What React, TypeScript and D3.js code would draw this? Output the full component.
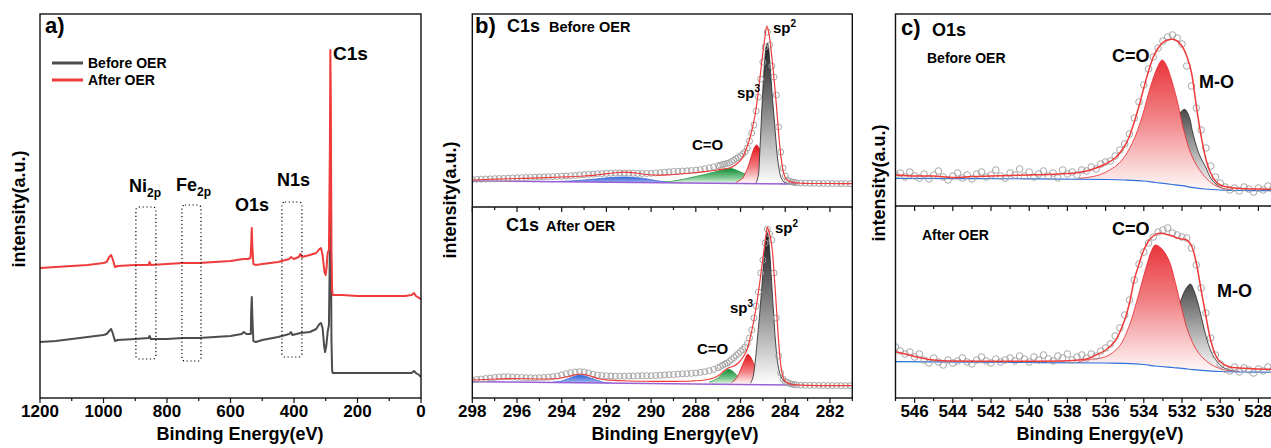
import React from 'react';
import * as d3 from 'd3';

type P = [number, number];

// ---------------- Panel a: survey (eV, intensity a.u.) ----------------
const surveyMajorTicks = [1200, 1000, 800, 600, 400, 200, 0];
const surveyMinorTicks = [1100, 900, 700, 500, 300, 100];

const surveyAfter: P[] = [
  [1200, 130], [1150, 131], [1100, 132], [1050, 133], [1000, 135], [990, 136], [982, 141], [976, 143], [971, 139],
  [964, 131], [955, 132], [900, 133], [858, 133], [855, 136], [851, 133], [800, 134], [750, 135], [700, 135],
  [650, 136], [600, 137], [560, 139], [545, 139], [537, 140], [535, 152], [533, 170], [531, 150], [528, 134],
  [520, 133], [500, 134], [450, 136], [415, 139], [410, 141], [400, 139], [385, 141], [380, 144], [375, 141],
  [350, 143], [330, 145], [320, 149], [315, 150], [310, 143], [304, 126], [300, 123], [297, 132], [294, 145],
  [290, 148], [287, 248], [285.5, 348], [284, 298], [282, 148], [280, 108], [278, 103], [250, 103], [200, 102],
  [100, 102], [50, 102], [30, 103], [22, 105], [16, 102], [6, 100], [0, 99],
];
const surveyBefore: P[] = [
  [1200, 56], [1150, 57], [1100, 59], [1050, 61], [1000, 63], [990, 64], [982, 67], [976, 69], [971, 65],
  [964, 57], [955, 58], [900, 59], [858, 60], [855, 62], [851, 59], [800, 59], [750, 60], [700, 60], [650, 61],
  [600, 62], [565, 64], [558, 66], [550, 64], [540, 64], [536, 64], [535, 85], [533, 101], [531, 80], [528, 57],
  [520, 56], [500, 58], [450, 61], [415, 64], [410, 66], [405, 63], [380, 65], [350, 66], [330, 69], [320, 74],
  [315, 75], [310, 70], [305, 52], [302, 46], [298, 53], [294, 66], [290, 73], [287, 148], [285.5, 220],
  [284, 180], [282, 58], [280, 28], [278, 25], [200, 25], [100, 25], [30, 25], [22, 27], [16, 25], [6, 23], [0, 21],
];
// dotted region boxes (eV from, eV to)
const surveyBoxes: P[] = [[898, 835], [753, 693], [438, 375]];

// ---------------- Panel b: C1s ----------------
const c1sMajorTicks = [298, 296, 294, 292, 290, 288, 286, 284, 282];
const c1sMinorTicks = [297, 295, 293, 291, 289, 287, 285, 283, 281];

const c1sBeforeData: P[] = [
  [298, 27.5], [297.8, 27.7], [297.6, 27.8], [297.4, 28], [297.2, 28.1], [297, 28.3], [296.8, 28.5], [296.6, 28.6],
  [296.4, 28.8], [296.2, 29], [296, 29.2], [295.8, 29.3], [295.6, 29.5], [295.4, 29.6], [295.2, 29.8], [295, 30],
  [294.8, 30.1], [294.6, 30.3], [294.4, 30.4], [294.2, 30.6], [294, 30.8], [293.8, 31], [293.6, 31.3], [293.4, 31.6],
  [293.2, 32], [293, 32.3], [292.8, 32.6], [292.6, 32.9], [292.4, 33.2], [292.2, 33.4], [292, 33.6], [291.8, 33.8],
  [291.6, 34], [291.4, 34.1], [291.2, 34.1], [291, 34], [290.8, 33.8], [290.6, 33.6], [290.4, 33.5], [290.2, 33.5],
  [290, 33.7], [289.8, 34], [289.6, 34.4], [289.4, 34.8], [289.2, 35.2], [289, 35.5], [288.8, 35.8], [288.6, 36],
  [288.4, 36.2], [288.2, 36.5], [288, 36.8], [287.8, 37.4], [287.6, 38.2], [287.4, 39.2], [287.2, 40.2],
  [287, 41.2], [286.9, 41.8], [286.8, 42.4], [286.7, 43], [286.6, 43.6], [286.5, 44.3], [286.4, 45.5], [286.3, 46.8],
  [286.2, 48.5], [286.1, 49.5], [286, 51], [285.9, 53], [285.8, 55], [285.7, 59], [285.6, 66], [285.5, 74],
  [285.4, 82], [285.3, 96], [285.2, 110], [285.1, 128], [285, 145], [284.9, 160], [284.8, 175], [284.7, 162],
  [284.6, 141], [284.5, 130], [284.4, 112], [284.3, 80], [284.2, 55], [284.1, 39], [284, 31], [283.9, 27],
  [283.8, 25.5], [283.7, 25], [283.6, 24.5], [283.5, 24.2], [283.3, 24], [283.1, 23.9], [282.9, 23.8],
  [282.7, 23.7], [282.5, 23.6], [282.3, 23.6], [282.1, 23.5], [281.9, 23.5], [281.7, 23.4], [281.5, 23.4],
  [281.3, 23.4], [281.1, 23.3],
];
const c1sBeforeEnvelope: P[] = [
  [298, 27], [297, 27.8], [296, 28.5], [295, 29.2], [294, 30], [293, 31], [292.3, 32.5], [291.7, 34], [291.2, 34.8],
  [290.7, 34], [290.2, 32.5], [289.7, 31.8], [289.2, 32.2], [288.7, 33], [288.2, 34], [287.7, 35.2], [287.2, 36.5],
  [286.8, 37.8], [286.5, 39], [286.3, 41], [286.1, 44.5], [285.95, 48], [285.8, 55], [285.65, 64], [285.5, 76],
  [285.35, 92], [285.2, 116], [285.05, 145], [284.92, 168], [284.82, 181], [284.72, 172], [284.6, 150],
  [284.5, 128], [284.4, 103], [284.3, 75], [284.2, 52], [284.1, 37], [284, 29.5], [283.85, 26], [283.6, 24.3],
  [283.2, 23.7], [282, 23.5], [281, 23.4],
];
const c1sBeforeBg: P[] = [[298, 26], [283.5, 23]];
const c1sBeforeBlue: P[] = [
  [294.5, 25.2], [293.5, 26.2], [292.5, 28], [291.8, 29.5], [291.1, 30], [290.4, 28.8], [289.8, 26.5], [289.2, 24.8], [288.6, 24.2],
];
const c1sBeforeCO: P[] = [
  [289.6, 24.3], [289, 26], [288.5, 28], [288, 30.5], [287.5, 33], [287, 36], [286.7, 38], [286.47, 38.7],
  [286.2, 37], [286, 35], [285.7, 32], [285.4, 29.5], [285, 27], [284.6, 25], [284.2, 23.3], [283.9, 23],
];
const c1sBeforeSp3: P[] = [
  [286.2, 24.8], [286, 27], [285.9, 29], [285.8, 33], [285.65, 41], [285.5, 52], [285.4, 58.5], [285.28, 62],
  [285.15, 58], [285.05, 51], [284.95, 41], [284.86, 33], [284.75, 28], [284.6, 25], [284.45, 23.8],
];
const c1sBeforeSp2: P[] = [
  [285.3, 24], [285.2, 32], [285.15, 50], [285.1, 72], [285.05, 97], [285, 118], [284.95, 137], [284.9, 152],
  [284.85, 161], [284.8, 164], [284.75, 160], [284.7, 148], [284.65, 133], [284.6, 117], [284.55, 103],
  [284.5, 90], [284.45, 76], [284.4, 62], [284.35, 50], [284.3, 41], [284.25, 35], [284.2, 30], [284.1, 26],
  [284, 24], [283.8, 23.3],
];

const c1sAfterData: P[] = [
  [298, 18], [297.8, 18.5], [297.6, 19], [297.4, 19.5], [297.2, 20], [297, 20.5], [296.8, 21], [296.6, 21.3],
  [296.4, 21.3], [296.2, 21], [296, 20.7], [295.8, 20.5], [295.6, 20.3], [295.4, 20.2], [295.2, 20.2], [295, 20.3],
  [294.8, 20.5], [294.6, 20.8], [294.4, 21.3], [294.2, 22], [294, 23], [293.8, 24.2], [293.6, 25.3], [293.4, 26],
  [293.2, 26.3], [293, 26], [292.8, 25], [292.6, 23.8], [292.4, 23], [292.2, 22.5], [292, 22.2], [291.8, 22],
  [291.6, 21.8], [291.4, 21.8], [291.2, 21.8], [291, 22], [290.8, 22], [290.6, 22.2], [290.4, 22.3], [290.2, 22.3],
  [290, 22.3], [289.8, 22.5], [289.6, 22.7], [289.4, 23], [289.2, 23.3], [289, 23.5], [288.8, 23.8], [288.6, 24.1],
  [288.4, 24.4], [288.2, 24.6], [288, 25], [287.8, 25.6], [287.6, 26.3], [287.4, 27.3], [287.2, 28.6],
  [287, 30.3], [286.9, 31.5], [286.8, 32.8], [286.7, 34], [286.6, 35], [286.5, 36.5], [286.4, 38.5], [286.3, 40.5],
  [286.2, 42.5], [286.1, 44.5], [286, 46.5], [285.9, 48.5], [285.8, 51], [285.7, 54.5], [285.6, 60], [285.5, 68],
  [285.4, 80], [285.3, 92], [285.2, 106], [285.1, 125], [285, 138], [284.9, 155], [284.8, 169], [284.7, 164],
  [284.6, 158], [284.5, 125], [284.4, 80], [284.3, 42], [284.2, 25], [284.1, 19], [284, 16.5], [283.9, 15.5],
  [283.8, 14.5], [283.7, 13.8], [283.6, 13.3], [283.5, 13], [283.3, 12.8], [283.1, 12.7], [282.9, 12.6],
  [282.7, 12.6], [282.5, 12.5], [282.3, 12.5], [282.1, 12.4], [281.9, 12.4], [281.7, 12.4], [281.5, 12.3],
  [281.3, 12.3], [281.1, 12.3],
];
const c1sAfterEnvelope: P[] = [
  [298, 18], [297, 19], [296, 19.5], [295, 19], [294.2, 19.5], [293.7, 21.5], [293.2, 24], [292.8, 22.5],
  [292.3, 19], [291.8, 17.8], [291, 17], [290, 16.7], [289, 16.6], [288.2, 17], [287.6, 18], [287.2, 20],
  [286.95, 23], [286.75, 27], [286.55, 30], [286.3, 32], [286.1, 35], [285.95, 39], [285.8, 44], [285.68, 50],
  [285.55, 62], [285.4, 78], [285.25, 98], [285.1, 122], [284.95, 148], [284.85, 165], [284.8, 170.7],
  [284.72, 166], [284.6, 152], [284.5, 125], [284.4, 92], [284.3, 58], [284.2, 33], [284.1, 21], [284, 16.5],
  [283.85, 14.5], [283.6, 13.3], [283, 12.6], [282, 12.4], [281, 12.3],
];
const c1sAfterBg: P[] = [[298, 16.3], [283.5, 13]];
const c1sAfterBlue: P[] = [
  [294.4, 15.8], [294, 17], [293.7, 19.5], [293.4, 22], [293.2, 23], [293, 22.3], [292.7, 20], [292.4, 17.5], [292.1, 15.6], [291.8, 15.2],
];
const c1sAfterCO: P[] = [
  [287.4, 16], [287.2, 17.5], [287, 20], [286.8, 24.5], [286.65, 27.5], [286.55, 28.7], [286.4, 27.5],
  [286.2, 23.5], [286, 19], [285.8, 16.2], [285.6, 15],
];
const c1sAfterSp3: P[] = [
  [286.4, 15.5], [286.25, 18], [286.1, 23], [285.95, 31], [285.8, 39], [285.68, 43.7], [285.55, 41],
  [285.35, 31], [285.2, 25], [285.05, 21], [284.85, 17], [284.68, 15], [284.5, 14],
];
const c1sAfterSp2: P[] = [
  [285.55, 14.8], [285.45, 20], [285.35, 35], [285.25, 58], [285.13, 88], [285.05, 110], [284.98, 131],
  [284.9, 152], [284.85, 162], [284.8, 166], [284.75, 160], [284.7, 148], [284.65, 131], [284.53, 88],
  [284.43, 55], [284.31, 31], [284.2, 22], [284.1, 18], [283.9, 15], [283.7, 14],
];

// ---------------- Panel c: O1s ----------------
const o1sMajorTicks = [546, 544, 542, 540, 538, 536, 534, 532, 530, 528];
const o1sMinorTicks = [547, 545, 543, 541, 539, 537, 535, 533, 531, 529, 527];

const o1sBeforeData: P[] = [
  [547, 31], [546.75, 33], [546.5, 29], [546.25, 34], [546, 30], [545.75, 28], [545.5, 32], [545.25, 27],
  [545, 31], [544.75, 35], [544.5, 29], [544.25, 26], [544, 30], [543.75, 33], [543.5, 28], [543.25, 31],
  [543, 27], [542.75, 32], [542.5, 34], [542.25, 29], [542, 31], [541.75, 36], [541.5, 30], [541.25, 28],
  [541, 33], [540.75, 31], [540.5, 37], [540.25, 30], [540, 34], [539.75, 29], [539.5, 32], [539.25, 35],
  [539, 30], [538.75, 33], [538.5, 28], [538.25, 36], [538, 32], [537.75, 34], [537.5, 31], [537.25, 36],
  [537, 35], [536.75, 39], [536.5, 37], [536.25, 42], [536, 44], [535.75, 45], [535.5, 50], [535.25, 56],
  [535, 62], [534.75, 72], [534.5, 88], [534.25, 104], [534, 121], [533.75, 137], [533.5, 149], [533.25, 158],
  [533, 165], [532.75, 169], [532.5, 171], [532.25, 168], [532, 162], [531.75, 140], [531.5, 120], [531.25, 98],
  [531, 76], [530.75, 58], [530.5, 40], [530.25, 29], [530, 23], [529.75, 19], [529.5, 16], [529.25, 18],
  [529, 15], [528.75, 19], [528.5, 17], [528.25, 14], [528, 18], [527.75, 16], [527.5, 20], [527.25, 17],
];
const o1sBeforeEnvelope: P[] = [
  [547, 31], [546, 30], [545, 30], [544, 28.5], [543, 29.5], [542, 30], [541, 30.5], [540, 31], [539, 31.5],
  [538, 32.5], [537.4, 33.5], [537, 35], [536.5, 38], [536, 42], [535.5, 48], [535, 60], [534.75, 70],
  [534.5, 84], [534.25, 100], [534, 118], [533.75, 135], [533.5, 149], [533.25, 158], [533, 163.5],
  [532.75, 166], [532.5, 166.7], [532.25, 165], [532, 160], [531.75, 150], [531.5, 133], [531.25, 100],
  [531, 70], [530.75, 47], [530.5, 33], [530.25, 25], [530, 21], [529.5, 18.5], [529, 17.5], [528, 17], [527, 16.7],
];
const o1sBeforeBg: P[] = [
  [547, 27.7], [540, 27.2], [536, 26.5], [535, 26], [534, 25], [533.4, 23.5], [532.5, 21.5], [532, 20.3],
  [531.4, 18.3], [530.8, 17], [530, 16], [529, 15.5], [527, 15.3],
];
const o1sBeforeCO: P[] = [
  [537.4, 27.7], [536.35, 31], [535.3, 42.7], [534.61, 62.7], [534.09, 89.3], [533.65, 119.3], [533.3, 138],
  [533.04, 146], [532.8, 140], [532.6, 129.3], [532.26, 106], [531.91, 76], [531.47, 49.3], [530.95, 32.7],
  [530.43, 22.7], [529.9, 17.7], [529.3, 16],
];
const o1sBeforeMO: P[] = [
  [533.5, 25], [533, 45], [532.5, 75], [532.1, 93], [531.86, 96.7], [531.6, 88], [531.47, 76], [531.12, 52.7],
  [530.77, 39.3], [530.43, 26], [529.9, 17.7], [529.5, 16],
];

const o1sAfterData: P[] = [
  [547, 51], [546.75, 47], [546.5, 44], [546.25, 46], [546, 41], [545.75, 44], [545.5, 38], [545.25, 35],
  [545, 40], [544.75, 36], [544.5, 33], [544.25, 38], [544, 35], [543.75, 37], [543.5, 40], [543.25, 36],
  [543, 34], [542.75, 38], [542.5, 41], [542.25, 37], [542, 35], [541.75, 39], [541.5, 36], [541.25, 38],
  [541, 40], [540.75, 37], [540.5, 42], [540.25, 39], [540, 36], [539.75, 41], [539.5, 38], [539.25, 43],
  [539, 39], [538.75, 37], [538.5, 42], [538.25, 40], [538, 44], [537.75, 38], [537.5, 41], [537.25, 43],
  [537, 40], [536.75, 44], [536.5, 42], [536.25, 47], [536, 50], [535.75, 54], [535.5, 62], [535.25, 70],
  [535, 83], [534.75, 98], [534.5, 118], [534.25, 134], [534, 146], [533.75, 155], [533.5, 161], [533.25, 166],
  [533, 168], [532.75, 170], [532.5, 165], [532.25, 163], [532, 161], [531.75, 160], [531.5, 150], [531.25, 133],
  [531, 110], [530.75, 85], [530.5, 60], [530.25, 43], [530, 34], [529.75, 29], [529.5, 27], [529.25, 31],
  [529, 26], [528.75, 30], [528.5, 28], [528.25, 25], [528, 29], [527.75, 27], [527.5, 31], [527.25, 28],
];
const o1sAfterEnvelope: P[] = [
  [547, 46.3], [546.5, 44], [546, 41.5], [545.5, 39.5], [545, 38], [544.5, 37.2], [544, 37], [542, 36.8],
  [540, 36.8], [538, 37.2], [537.4, 38], [537, 39], [536.5, 43], [536, 48], [535.5, 57], [535, 78], [534.75, 95],
  [534.5, 118], [534.25, 134], [534, 148], [533.75, 157], [533.5, 162], [533.25, 164.5], [533, 164.5],
  [532.75, 163.3], [532.5, 162], [532.25, 160], [532, 159], [531.75, 158], [531.5, 152], [531.25, 135],
  [531, 108], [530.75, 82], [530.5, 58], [530.25, 43], [530, 36], [529.5, 31], [529, 30], [528, 29], [527, 28.7],
];
const o1sAfterBg: P[] = [
  [547, 36.3], [540, 35.5], [536, 35], [535, 34.7], [534, 33.5], [533.4, 32], [532.5, 30.5], [532, 29.7],
  [531.4, 28.3], [530.8, 27.3], [530, 26.5], [529, 26], [527, 25.7],
];
const o1sAfterCO: P[] = [
  [537.5, 35.5], [537.04, 38], [536, 41.3], [535.3, 51.3], [534.78, 71.3], [534.35, 98], [533.87, 131.3],
  [533.6, 147], [533.4, 153], [533.1, 150], [532.69, 138], [532.34, 114.7], [532, 88], [531.65, 64.7],
  [531.12, 44.7], [530.43, 33], [529.73, 28], [529, 26.5],
];
const o1sAfterMO: P[] = [
  [533.2, 33], [532.8, 50], [532.4, 75], [532.05, 98], [531.8, 109], [531.56, 114], [531.35, 106], [531.21, 98],
  [530.95, 78], [530.69, 58], [530.34, 41.3], [529.9, 31.3], [529.4, 27.5], [529, 26.5],
];

// ---------------- helpers ----------------
const FONT = '"Liberation Sans", Arial, Helvetica, sans-serif';

function valueAt(arr: P[], e: number): number {
  for (let i = 0; i < arr.length - 1; i++) {
    const [x0, y0] = arr[i];
    const [x1, y1] = arr[i + 1];
    if ((e <= x0 && e >= x1) || (e >= x0 && e <= x1)) {
      const t = x1 === x0 ? 0 : (e - x0) / (x1 - x0);
      return y0 + t * (y1 - y0);
    }
  }
  const first = arr[0];
  const last = arr[arr.length - 1];
  return Math.abs(e - first[0]) < Math.abs(e - last[0]) ? first[1] : last[1];
}

type Scale = d3.ScaleLinear<number, number>;

function Component({ pts, bg, x, y, fill, stroke }: { pts: P[]; bg: P[]; x: Scale; y: Scale; fill: string; stroke: string }) {
  const top = (d: P) => y(Math.max(d[1], valueAt(bg, d[0])));
  const area = d3
    .area<P>()
    .x((d) => x(d[0]))
    .y0((d) => y(valueAt(bg, d[0])))
    .y1(top)
    .curve(d3.curveCatmullRom.alpha(0.5));
  const line = d3
    .line<P>()
    .x((d) => x(d[0]))
    .y(top)
    .curve(d3.curveCatmullRom.alpha(0.5));
  return (
    <g>
      <path d={area(pts) || ''} fill={fill} />
      <path d={line(pts) || ''} fill="none" stroke={stroke} strokeWidth={0.8} />
    </g>
  );
}

function Circles({ data, x, y, r }: { data: P[]; x: Scale; y: Scale; r: number }) {
  return (
    <g>
      {data.map((d, i) => (
        <circle key={i} cx={x(d[0])} cy={y(d[1])} r={r} fill="none" stroke="#9d9d9d" strokeWidth={0.9} />
      ))}
    </g>
  );
}

function Curve({ pts, x, y, stroke, width, curved = true }: { pts: P[]; x: Scale; y: Scale; stroke: string; width: number; curved?: boolean }) {
  const line = d3
    .line<P>()
    .x((d) => x(d[0]))
    .y((d) => y(d[1]))
    .curve(curved ? d3.curveCatmullRom.alpha(0.5) : d3.curveLinear);
  return <path d={line(pts) || ''} fill="none" stroke={stroke} strokeWidth={width} strokeLinejoin="round" />;
}

function Ticks({ x, y0, major, minor, labels, labelY }: { x: Scale; y0: number; major: number[]; minor: number[]; labels: boolean; labelY: number }) {
  return (
    <g>
      {major.map((t) => (
        <line key={'M' + t} x1={x(t)} x2={x(t)} y1={y0} y2={y0 + 5} stroke="#111" strokeWidth={1.2} />
      ))}
      {minor.map((t) => (
        <line key={'m' + t} x1={x(t)} x2={x(t)} y1={y0} y2={y0 + 3} stroke="#111" strokeWidth={1.2} />
      ))}
      {labels &&
        major.map((t) => (
          <text key={'L' + t} x={x(t)} y={labelY} textAnchor="middle" fontSize={17} fontWeight="bold" fill="#000">
            {t}
          </text>
        ))}
    </g>
  );
}

function YTitle({ cx, cy }: { cx: number; cy: number }) {
  return (
    <text transform={`translate(${cx},${cy}) rotate(-90)`} textAnchor="middle" fontSize={18} fontWeight="bold" fill="#000">
      intensity(a.u.)
    </text>
  );
}

function Grad({ id, stops }: { id: string; stops: [number, string][] }) {
  return (
    <linearGradient id={id} x1="0" y1="0" x2="0" y2="1">
      {stops.map(([o, c], i) => (
        <stop key={i} offset={o} stopColor={c} />
      ))}
    </linearGradient>
  );
}

export default function App() {
  // panel a
  const xA = d3.scaleLinear().domain([1200, 0]).range([40, 421]);
  const yA = d3.scaleLinear().domain([0, 384]).range([398, 14]);
  // panel b
  const xB = d3.scaleLinear().domain([298, 281]).range([472.3, 852.3]);
  const yBU = d3.scaleLinear().domain([0, 193]).range([207, 14]);
  const yBL = d3.scaleLinear().domain([0, 191]).range([398, 207]);
  // panel c
  const xC = d3.scaleLinear().domain([547, 527]).range([895.5, 1277.5]);
  const yCU = d3.scaleLinear().domain([0, 192]).range([206, 14]);
  const yCL = d3.scaleLinear().domain([0, 192]).range([398, 206]);

  const survey = d3
    .line<P>()
    .x((d) => xA(d[0]))
    .y((d) => yA(d[1]));

  const bx0 = 472.3, bx1 = 852.3;
  const cx0 = 895.5, cx1 = 1277.5;

  const boxTop = [207, 205, 202];
  const boxBot = [359, 361, 357];

  const purple = '#9a5fd6';
  const blueLine = '#2c6fd8';
  const envRed = '#f03a3a';

  return (
    <svg
      width={1271}
      height={448}
      style={{ position: 'absolute', left: 0, top: 0, background: '#fff' }}
      fontFamily={FONT}
    >
      <defs>
        <clipPath id="clipA"><rect x={40} y={14} width={381} height={384} /></clipPath>
        <clipPath id="clipBU"><rect x={bx0} y={14} width={bx1 - bx0} height={193} /></clipPath>
        <clipPath id="clipBL"><rect x={bx0} y={207} width={bx1 - bx0} height={191} /></clipPath>
        <clipPath id="clipCU"><rect x={cx0} y={14} width={cx1 - cx0} height={192} /></clipPath>
        <clipPath id="clipCL"><rect x={cx0} y={206} width={cx1 - cx0} height={192} /></clipPath>
        <Grad id="gSp2" stops={[[0, '#1e1e1e'], [0.45, '#808080'], [1, '#ffffff']]} />
        <Grad id="gSp3" stops={[[0, '#e5161c'], [0.55, '#f27a7d'], [1, '#ffffff']]} />
        <Grad id="gGreen" stops={[[0, '#138a34'], [0.6, '#7cc890'], [1, '#f2faf3']]} />
        <Grad id="gBlue" stops={[[0, '#2b5fd6'], [1, '#a9bdf0']]} />
        <Grad id="gCO" stops={[[0, '#e9353a'], [0.45, '#f18487'], [1, '#fffafa']]} />
        <Grad id="gMO" stops={[[0, '#4a4a4a'], [0.5, '#a8a8a8'], [1, '#ffffff']]} />
      </defs>

      {/* ================= Panel a ================= */}
      <g clipPath="url(#clipA)">
        <path d={survey(surveyBefore) || ''} fill="none" stroke="#4d4d4d" strokeWidth={2} strokeLinejoin="round" />
        <path d={survey(surveyAfter) || ''} fill="none" stroke="#ef3b3b" strokeWidth={2} strokeLinejoin="round" />
      </g>
      {surveyBoxes.map((b, i) => (
        <rect
          key={i}
          x={xA(b[0])}
          y={boxTop[i]}
          width={xA(b[1]) - xA(b[0])}
          height={boxBot[i] - boxTop[i]}
          rx={3}
          fill="none"
          stroke="#000"
          strokeWidth={1.2}
          strokeDasharray="1.2,2.6"
        />
      ))}
      <rect x={40} y={14} width={381} height={384} fill="none" stroke="#111" strokeWidth={1.4} />
      <Ticks x={xA} y0={398} major={surveyMajorTicks} minor={surveyMinorTicks} labels labelY={417} />
      <text x={240} y={440} textAnchor="middle" fontSize={18} fontWeight="bold">Binding Energy(eV)</text>
      <YTitle cx={25} cy={209} />
      <text x={45} y={33} fontSize={22} fontWeight="bold">a)</text>
      <line x1={52} x2={83} y1={63} y2={63} stroke="#4d4d4d" strokeWidth={3} />
      <line x1={52} x2={83} y1={80} y2={80} stroke="#ef3b3b" strokeWidth={3} />
      <text x={88} y={68} fontSize={14} fontWeight="bold">Before OER</text>
      <text x={88} y={85} fontSize={14} fontWeight="bold">After OER</text>
      <text x={333} y={60} fontSize={19} fontWeight="bold">C1s</text>
      <text x={129} y={192} fontSize={18} fontWeight="bold">Ni<tspan fontSize={12} dy={5}>2p</tspan></text>
      <text x={176} y={191} fontSize={18} fontWeight="bold">Fe<tspan fontSize={12} dy={5}>2p</tspan></text>
      <text x={235} y={211} fontSize={18} fontWeight="bold">O1s</text>
      <text x={277} y={186} fontSize={18} fontWeight="bold">N1s</text>

      {/* ================= Panel b ================= */}
      <g clipPath="url(#clipBU)">
        <Component pts={c1sBeforeBlue} bg={c1sBeforeBg} x={xB} y={yBU} fill="url(#gBlue)" stroke="#3d6ad8" />
        <Component pts={c1sBeforeCO} bg={c1sBeforeBg} x={xB} y={yBU} fill="url(#gGreen)" stroke="#1c9a3e" />
        <Component pts={c1sBeforeSp3} bg={c1sBeforeBg} x={xB} y={yBU} fill="url(#gSp3)" stroke="#e01a20" />
        <Component pts={c1sBeforeSp2} bg={c1sBeforeBg} x={xB} y={yBU} fill="url(#gSp2)" stroke="#222" />
        <Curve pts={c1sBeforeBg} x={xB} y={yBU} stroke={purple} width={1.5} curved={false} />
        <Circles data={c1sBeforeData} x={xB} y={yBU} r={3} />
        <Curve pts={c1sBeforeEnvelope} x={xB} y={yBU} stroke={envRed} width={1.2} />
      </g>
      <g clipPath="url(#clipBL)">
        <Component pts={c1sAfterBlue} bg={c1sAfterBg} x={xB} y={yBL} fill="url(#gBlue)" stroke="#3d6ad8" />
        <Component pts={c1sAfterCO} bg={c1sAfterBg} x={xB} y={yBL} fill="url(#gGreen)" stroke="#1c9a3e" />
        <Component pts={c1sAfterSp3} bg={c1sAfterBg} x={xB} y={yBL} fill="url(#gSp3)" stroke="#e01a20" />
        <Component pts={c1sAfterSp2} bg={c1sAfterBg} x={xB} y={yBL} fill="url(#gSp2)" stroke="#222" />
        <Curve pts={c1sAfterBg} x={xB} y={yBL} stroke={purple} width={1.5} curved={false} />
        <Circles data={c1sAfterData} x={xB} y={yBL} r={3} />
        <Curve pts={c1sAfterEnvelope} x={xB} y={yBL} stroke={envRed} width={1.2} />
      </g>
      <rect x={bx0} y={14} width={bx1 - bx0} height={384} fill="none" stroke="#111" strokeWidth={1.4} />
      <line x1={bx0} x2={bx1} y1={207} y2={207} stroke="#111" strokeWidth={1.4} />
      <Ticks x={xB} y0={207} major={c1sMajorTicks} minor={c1sMinorTicks} labels={false} labelY={0} />
      <Ticks x={xB} y0={398} major={c1sMajorTicks} minor={c1sMinorTicks} labels labelY={417} />
      <text x={675} y={440} textAnchor="middle" fontSize={18} fontWeight="bold">Binding Energy(eV)</text>
      <YTitle cx={456} cy={200} />
      <text x={475} y={33} fontSize={22} fontWeight="bold">b)</text>
      <text x={507} y={32} fontSize={18} fontWeight="bold">C1s</text>
      <text x={549} y={32} fontSize={14.5} fontWeight="bold">Before OER</text>
      <text x={506} y={231} fontSize={18} fontWeight="bold">C1s</text>
      <text x={546} y={231} fontSize={14.5} fontWeight="bold">After OER</text>
      <text x={773} y={33} fontSize={15} fontWeight="bold">sp<tspan fontSize={10} dy={-6}>2</tspan></text>
      <text x={737} y={98} fontSize={15} fontWeight="bold">sp<tspan fontSize={10} dy={-6}>3</tspan></text>
      <text x={692} y={150} fontSize={15} fontWeight="bold">C=O</text>
      <text x={775} y={233} fontSize={15} fontWeight="bold">sp<tspan fontSize={10} dy={-6}>2</tspan></text>
      <text x={730} y={313} fontSize={15} fontWeight="bold">sp<tspan fontSize={10} dy={-6}>3</tspan></text>
      <text x={697} y={354} fontSize={15} fontWeight="bold">C=O</text>

      {/* ================= Panel c ================= */}
      <g clipPath="url(#clipCU)">
        <Component pts={o1sBeforeMO} bg={o1sBeforeBg} x={xC} y={yCU} fill="url(#gMO)" stroke="#222" />
        <Component pts={o1sBeforeCO} bg={o1sBeforeBg} x={xC} y={yCU} fill="url(#gCO)" stroke="#e8262c" />
        <Curve pts={o1sBeforeBg} x={xC} y={yCU} stroke={blueLine} width={1.2} />
        <Circles data={o1sBeforeData} x={xC} y={yCU} r={3.3} />
        <Curve pts={o1sBeforeEnvelope} x={xC} y={yCU} stroke={envRed} width={1.5} />
      </g>
      <g clipPath="url(#clipCL)">
        <Component pts={o1sAfterMO} bg={o1sAfterBg} x={xC} y={yCL} fill="url(#gMO)" stroke="#222" />
        <Component pts={o1sAfterCO} bg={o1sAfterBg} x={xC} y={yCL} fill="url(#gCO)" stroke="#e8262c" />
        <Curve pts={o1sAfterBg} x={xC} y={yCL} stroke={blueLine} width={1.2} />
        <Circles data={o1sAfterData} x={xC} y={yCL} r={3.3} />
        <Curve pts={o1sAfterEnvelope} x={xC} y={yCL} stroke={envRed} width={1.5} />
      </g>
      <rect x={cx0} y={14} width={cx1 - cx0} height={384} fill="none" stroke="#111" strokeWidth={1.4} />
      <line x1={cx0} x2={cx1} y1={206} y2={206} stroke="#111" strokeWidth={1.4} />
      <Ticks x={xC} y0={206} major={o1sMajorTicks} minor={o1sMinorTicks} labels={false} labelY={0} />
      <Ticks x={xC} y0={398} major={o1sMajorTicks} minor={o1sMinorTicks} labels labelY={417} />
      <text x={1100} y={440} textAnchor="middle" fontSize={18} fontWeight="bold">Binding Energy(eV)</text>
      <YTitle cx={885} cy={183} />
      <text x={901} y={35} fontSize={22} fontWeight="bold">c)</text>
      <text x={932} y={36} fontSize={18} fontWeight="bold">O1s</text>
      <text x={927} y={63} fontSize={14} fontWeight="bold">Before OER</text>
      <text x={922} y={240} fontSize={14} fontWeight="bold">After OER</text>
      <text x={1112} y={62} fontSize={18} fontWeight="bold">C=O</text>
      <text x={1199} y={88} fontSize={18} fontWeight="bold">M-O</text>
      <text x={1112} y={235} fontSize={18} fontWeight="bold">C=O</text>
      <text x={1217} y={297} fontSize={18} fontWeight="bold">M-O</text>
    </svg>
  );
}
